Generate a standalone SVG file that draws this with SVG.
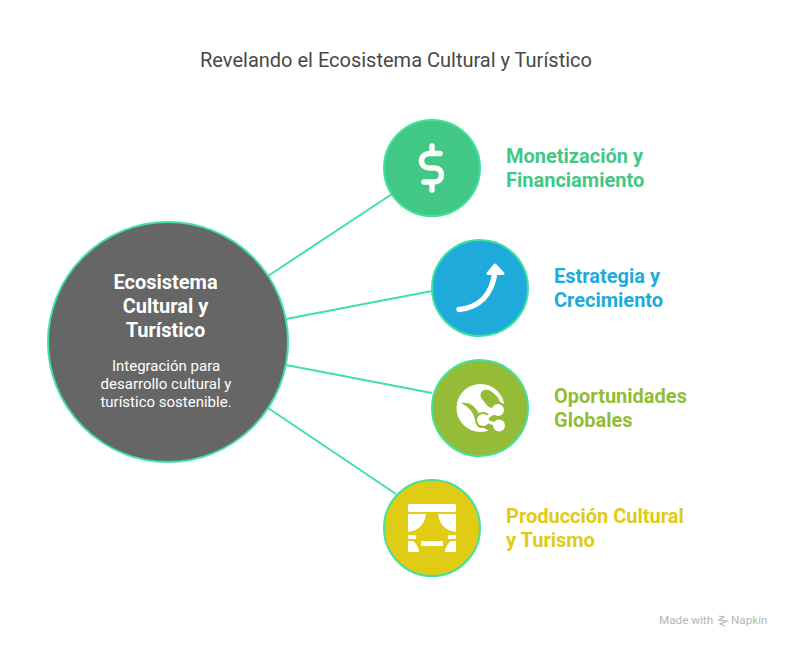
<svg xmlns="http://www.w3.org/2000/svg" width="792" height="648" viewBox="0 0 792 648">
<style>
text{font-family:Roboto,"Liberation Sans",sans-serif}
.t{font-size:20px;font-weight:700}
.c{stroke:#42e29c;stroke-width:2}
.l{fill:none;stroke:#42e29c;stroke-width:2}
.h{font-size:20px;font-weight:700;fill:#fff;text-anchor:middle}
.s{font-size:15px;fill:#fff;text-anchor:middle}
.i{fill:#fff}
.g{fill:#94bc36}
.w{fill:none;stroke:#fff;stroke-linecap:round;stroke-linejoin:round}
</style>
<rect width="792" height="648" fill="#fff"/>
<text x="396" y="67" font-size="20" fill="#484848" text-anchor="middle">Revelando el Ecosistema Cultural y Turístico</text>
<g id="connectors">
<path class="l" d="M268 276L392 194"/>
<path class="l" d="M286 319L432 291"/>
<path class="l" d="M286 365L432 393"/>
<path class="l" d="M268 408L396 494"/>
</g>
<g id="center">
<circle class="c" cx="168" cy="342" r="120" fill="#666"/>
<text class="h" x="165.500" y="289">Ecosistema</text>
<text class="h" x="165.500" y="313">Cultural y</text>
<text class="h" x="165.500" y="337">Turístico</text>
<text class="s" x="166" y="371">Integración para</text>
<text class="s" x="166" y="389">desarrollo cultural y</text>
<text class="s" x="166" y="407">turístico sostenible.</text>
</g>
<g id="monetizacion">
<circle class="c" cx="432" cy="168" r="48" fill="#41c886"/>
<path class="w" stroke-width="5.500" d="M440 153.500H430C424.500 153.500 421.500 157 421.500 161C421.500 165 424.500 168 430 168H434C439.500 168 441.500 171.500 441.500 175C441.500 179 438.500 182 434 182H424M432 146V153M432 182V190"/>
<text class="t" x="506" y="163" fill="#41c886">Monetización y</text>
<text class="t" x="506" y="187" fill="#41c886">Financiamiento</text>
</g>
<g id="estrategia">
<circle class="c" cx="480" cy="288" r="48" fill="#1eaadb"/>
<path class="w" stroke-width="5.500" d="M459 309.500C479 307.500 492 295 495 272"/>
<path class="i" stroke="#fff" stroke-width="3" stroke-linejoin="round" d="M495 265L488 273.500H503Z"/>
<text class="t" x="554" y="283" fill="#1eaadb">Estrategia y</text>
<text class="t" x="554" y="307" fill="#1eaadb">Crecimiento</text>
</g>
<g id="oportunidades">
<circle class="c" cx="480" cy="408" r="48" fill="#94bc36"/>
<circle class="i" cx="480.500" cy="408" r="24"/>
<path class="g" d="M482 391.500C484 389 489 389.500 492 392C496 395 499 398 500 402L506 405V440H489V431L484 428L483 420L498 410L493 408L490 407.500C487 406 485.500 403.500 484 401.500C482.500 399.500 480 397 480.500 395C480.700 393.500 481 392.500 482 391.500Z"/>
<path class="g" d="M461.500 403C465 402.500 469.500 403 472.500 405.500C475.500 408 478 411 479 414L482 428L478 427C476 424 475.500 421 474.500 418C473.500 414.500 472 411.500 469.500 409C467 406.500 464 405 461.500 403Z"/>
<circle class="g" cx="483" cy="420" r="8"/>
<path class="w" stroke-width="3" d="M498 410L483 420L499 425.500"/>
<circle class="i" cx="498" cy="410" r="6"/>
<circle class="i" cx="483" cy="420" r="6"/>
<circle class="i" cx="499" cy="425.500" r="6"/>
<text class="t" x="554" y="403" fill="#94bc36">Oportunidades</text>
<text class="t" x="554" y="427" fill="#94bc36">Globales</text>
</g>
<g id="produccion">
<circle class="c" cx="432" cy="528" r="48" fill="#e0cb15"/>
<rect class="i" x="408" y="504" width="48" height="8" rx="1.500"/>
<path class="i" d="M408 514H426C425 524 418 531 408 532Z"/>
<path class="i" d="M456 514H438C439 524 446 531 456 532Z"/>
<rect class="i" x="408" y="535" width="8" height="4" rx="1"/>
<rect class="i" x="448" y="535" width="8" height="4" rx="1"/>
<path class="i" d="M408 541H413C417 544 419 548 419 552H408Z"/>
<path class="i" d="M456 541H451C447 544 445 548 445 552H456Z"/>
<rect class="i" x="421" y="541" width="22" height="5" rx="1"/>
<text class="t" x="506" y="523" fill="#e0cb15">Producción Cultural</text>
<text class="t" x="506" y="547" fill="#e0cb15">y Turismo</text>
</g>
<g id="watermark" fill="#b5b5b5">
<text x="659" y="624" font-size="11.700" font-family="Inter,Roboto,sans-serif">Made with</text>
<path fill="none" stroke="#b5b5b5" stroke-width="1.200" d="M719 616L724 617L719 620L727 621L720 624L725 626"/>
<text x="731" y="624" font-size="11.700" font-family="Inter,Roboto,sans-serif">Napkin</text>
</g>
</svg>
